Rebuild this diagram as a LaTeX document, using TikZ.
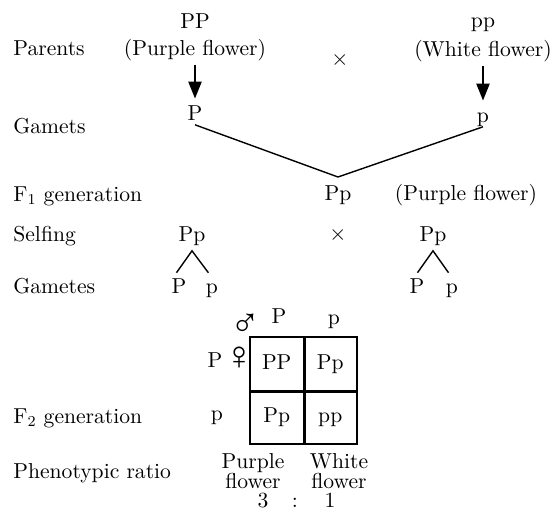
\documentclass[tikz,border=0pt]{standalone}
\usepackage{fontspec}
\usepackage{tikz}
\newfontfamily\symfont{Liberation Serif}
\usetikzlibrary{arrows.meta,positioning}

\begin{document}
\begin{tikzpicture}[x=0.5pt, y=-0.5pt,
    txt/.style={inner sep=0pt, text height=7.5pt, text depth=2.2pt, font=\fontsize{10.8}{12}\selectfont},
    rowtext/.style={txt, anchor=base west},
    gene/.style={txt, anchor=base},
    cell/.style={txt, draw, line width=0.7pt, minimum size=26.75pt},
    sexsym/.style={inner sep=0pt, font=\symfont\fontsize{20}{20}\selectfont},
    arrow/.style={line width=1.2pt, -{Triangle[width=6.5pt,length=8.5pt]}, shorten <=2.5pt, shorten >=3pt},
    link/.style={line width=0.7pt},
    midline/.style={line width=1.3pt}
]
    \useasboundingbox (0,0) rectangle (553,527);

    % row titles
    \node[rowtext] (parents) at (13,55) {Parents};
    \node[rowtext] (gamets) at (13,133) {Gamets};
    \node[rowtext] (fone) at (13,201) {F\textsubscript{1} generation};
    \node[rowtext] (selfing) at (13,241) {Selfing};
    \node[rowtext] (gametes) at (13,293) {Gametes};
    \node[rowtext] (ftwo) at (13,423) {F\textsubscript{2} generation};
    \node[rowtext] (ratio) at (13,478) {Phenotypic ratio};

    % parents
    \node[gene] (pPP) at (195,28) {PP};
    \node[gene] (pPurple) at (195,55) {(Purple flower)};
    \node[txt] (crossA) at (340,60) {$\times$};
    \node[gene] (ppp) at (483,27) {pp};
    \node[gene] (pWhite) at (483,56) {(White flower)};

    \node[gene] (gP) at (195,120) {P};
    \node[gene] (gp) at (483,122) {p};
    \draw[arrow] (pPurple.south) -- (gP.north);
    \draw[arrow] (pWhite.south) -- (gp.north);

    \coordinate (vtip) at (338,177);
    \draw[link] (gP.south) -- (vtip) -- (gp.south);

    % F1 and selfing
    \node[gene] (fPp) at (338,200) {Pp};
    \node[gene] (fPurple) at (466,200) {(Purple flower)};
    \node[gene] (sPpL) at (192,241) {Pp};
    \node[txt] (crossB) at (338,235) {$\times$};
    \node[gene] (sPpR) at (433,241) {Pp};

    \node[gene] (gL1) at (179,293) {P};
    \node[gene] (gL2) at (212,293) {p};
    \node[gene] (gR1) at (417,293) {P};
    \node[gene] (gR2) at (452,293) {p};
    \draw[link, shorten <=3pt, shorten >=3pt] ([xshift=-3pt]gL1.north) -- ([yshift=-2.5pt]sPpL.south) -- (gL2.north);
    \draw[link, shorten <=3pt, shorten >=3pt] ([xshift=-1.5pt]gR1.north) -- ([yshift=-2.5pt]sPpR.south) -- (gR2.north);

    % Punnett square
    \node[cell] (c11) at (276.75,363.75) {PP};
    \node[cell] (c12) at (330.25,363.75) {Pp};
    \node[cell] (c21) at (276.75,417.25) {Pp};
    \node[cell] (c22) at (330.25,417.25) {pp};
    \draw[midline] (c11.north east) -- (c21.south east);
    \draw[midline] (c11.south west) -- (c12.south east);

    \node[gene] (colP) at (279,323) {P};
    \node[gene] (colp) at (334,324) {p};
    \node[gene] (rowP) at (215,367) {P};
    \node[gene] (rowp) at (217,420) {p};
    \node[sexsym, anchor=south] (male) at (245,337) {♂};
    \node[sexsym, anchor=north] (female) at (239,347) {♀};

    % ratio
    \node[gene] (purpleA) at (253,468) {Purple};
    \node[gene] (purpleB) at (253,488) {flower};
    \node[gene] (whiteA) at (339,468) {White};
    \node[gene] (whiteB) at (339,488) {flower};
    \node[gene] (three) at (263,507) {3};
    \node[gene] (colon) at (295,507) {:};
    \node[gene] (one) at (330,507) {1};
\end{tikzpicture}
\end{document}
